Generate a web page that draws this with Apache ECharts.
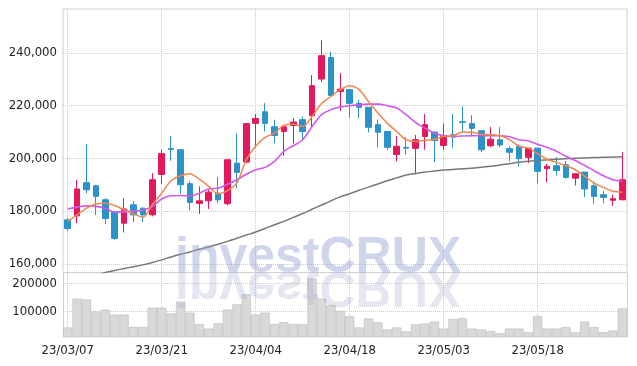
<!DOCTYPE html>
<html><head><meta charset="utf-8">
<script src="https://cdn.jsdelivr.net/npm/echarts@6/dist/echarts.min.js"></script>
<style>html,body{margin:0;padding:0;background:#fff}#c{width:637px;height:366px}</style>
</head><body><div id="c"></div>
<script>
const dates = ['23/03/07','23/03/08','23/03/09','23/03/10','23/03/13','23/03/14','23/03/15','23/03/16','23/03/17','23/03/20',
'23/03/21','23/03/22','23/03/23','23/03/24','23/03/27','23/03/28','23/03/29','23/03/30','23/03/31','23/04/03',
'23/04/04','23/04/05','23/04/06','23/04/07','23/04/10','23/04/11','23/04/12','23/04/13','23/04/14','23/04/17',
'23/04/18','23/04/19','23/04/20','23/04/21','23/04/24','23/04/25','23/04/26','23/04/27','23/04/28','23/05/02',
'23/05/03','23/05/04','23/05/08','23/05/09','23/05/10','23/05/11','23/05/12','23/05/15','23/05/16','23/05/17',
'23/05/18','23/05/19','23/05/22','23/05/23','23/05/24','23/05/25','23/05/26','23/05/30','23/05/31','23/06/01'];
// [open, close, low, high]
const ohlc = [
[176700,173400,172500,177300],[178200,188400,175400,191800],[190800,188100,186800,205400],[189600,185600,178500,190000],
[184300,177200,175100,184900],[179700,169600,169100,180100],[175400,180800,171900,184900],[182400,178600,175800,183800],
[181100,178600,175900,181400],[178600,191900,178000,194400],[193900,201800,190400,203300],[203700,203400,199100,208600],
[203300,190000,186600,203300],[190400,183300,180300,191300],[182900,183900,178900,189400],[183900,187200,180800,188100],
[186800,184300,183000,192900],[182800,199500,182200,199500],[198200,194700,188700,209600],[198600,213200,198200,213200],
[213300,215100,203900,216800],[217700,213300,210200,221000],[212000,208700,205800,214700],[210200,212000,201000,212000],
[212500,213800,205600,215300],[214700,210200,207100,215900],[216200,227600,211900,231600],[230100,239000,228900,244800],
[238300,223900,223500,240400],[225400,226300,218100,232400],[226100,220900,215300,226300],[220900,219400,215300,222300],
[219400,211800,209900,219400],[212800,209900,204300,214700],[210200,204200,203300,210200],[201500,204600,198900,208600],
[204200,203900,201400,208100],[203800,207100,194000,208900],[208300,212800,203300,216800],[210000,206800,198600,210000],
[204900,208600,203300,213200],[209000,208100,203900,216800],[213900,213700,210200,219700],[213200,211400,208300,216400],
[210500,203300,202400,210500],[204800,207300,204300,211900],[207100,205100,204300,211900],[203700,202300,198900,204600],
[204600,199900,197000,205200],[200400,203900,198200,203900],[203900,195100,190600,203900],[196100,197000,190900,198000],
[197200,195400,193500,200500],[197600,192800,192300,199000],[192500,194200,189700,194200],[194800,188400,185300,194800],
[189600,185600,182800,191300],[186200,185200,183000,187700],[184100,184700,182000,186200],[184300,191900,184100,202400]];
const ma5 = [176100,178600,181100,182700,183000,182100,180500,179000,177700,182400,
186800,191500,193400,194200,192100,189400,186600,187800,190600,199500,
204600,208000,209600,212600,213000,212100,215900,220800,223500,226100,
227600,226100,221600,217200,213400,210200,207100,206400,206800,207300,
208300,208600,210000,209900,209200,209000,208600,207100,204600,203900,
201800,199700,198500,197200,195700,193200,190600,189000,187500,187200];
const ma10 = [180800,181500,182000,181800,181000,179600,179700,180000,180300,181800,
184600,185800,185900,185800,186800,188400,188700,190200,191900,194000,
195700,196600,198900,202700,204800,207100,212100,216600,218500,219500,
220000,220400,220600,220600,220000,219100,216600,213700,211500,209600,
208600,208300,208500,208600,208600,208600,208600,208200,207100,206600,
205400,204200,202700,200800,199200,197300,195300,193400,191900,191300];
const maLong = [153300,154100,154900,155800,156700,157500,158200,158900,159600,160500,
161500,162600,163600,164500,165500,166400,167400,168500,169700,170900,
172100,173400,174800,176100,177600,179100,180700,182300,183900,185400,
186600,187900,189100,190300,191500,192600,193700,194300,194800,195200,
195600,195800,196100,196300,196600,197000,197500,198000,198500,198900,
199200,199500,199700,199900,200100,200200,200300,200400,200500,200600];
const volume = [43000,146000,143000,100000,107000,89000,89000,45000,45000,114000,
114000,93000,136000,96000,55000,39000,58000,107000,126000,162000,
89000,96000,55000,62000,55000,55000,218000,146000,123000,102000,
83000,43000,75000,61000,36000,43000,29000,54000,57000,64000,
39000,73000,76000,39000,36000,30000,22000,39000,39000,26000,
83000,39000,39000,44000,26000,64000,44000,26000,32000,111000];

const FONT = 'DejaVu Sans Condensed';
const gridLine = {show:true, alignWithLabel:true, interval:9, lineStyle:{color:'#c6c9dd', type:'dotted', width:1}};
const hLine = {show:true, showMinLine:false, showMaxLine:false, lineStyle:{color:'#c6c9dd', type:'dotted', width:1}};
const comma = v => String(v).replace(/\B(?=(\d{3})+(?!\d))/g, ',');

const chart = echarts.init(document.getElementById('c'), null, {renderer:'canvas'});
chart.setOption({
  animation:false,
  backgroundColor:'#fff',
  grid:[
    {left:63, right:10, top:9, height:263.5, show:true, borderColor:'#d0d0d0', borderWidth:1, backgroundColor:'transparent'},
    {left:63, right:10, top:273, bottom:29, show:false}
  ],
  xAxis:[
    {type:'category', gridIndex:0, data:dates, boundaryGap:true, axisLine:{show:false}, axisTick:{show:false}, axisLabel:{show:false}, splitLine:gridLine},
    {type:'category', gridIndex:1, data:dates, boundaryGap:true, axisLine:{show:false}, axisTick:{show:false},
      axisLabel:{show:true, interval:9, margin:7, color:'#222', fontFamily:FONT, fontSize:13}, splitLine:gridLine}
  ],
  yAxis:[
    {type:'value', gridIndex:0, min:156700, max:256700, splitNumber:5, axisLine:{show:false}, axisTick:{show:false},
      axisLabel:{color:'#222', fontFamily:FONT, fontSize:13, margin:6, showMinLabel:false, showMaxLabel:false, formatter:comma}, splitLine:hLine},
    {type:'value', gridIndex:1, min:9000, max:238000, splitNumber:2, axisLine:{show:true, lineStyle:{color:'#d0d0d0'}}, axisTick:{show:false},
      axisLabel:{color:'#222', fontFamily:FONT, fontSize:13, margin:6, showMinLabel:false, showMaxLabel:false, formatter:v => String(v)}, splitLine:hLine},
    {type:'value', gridIndex:1, position:'right', min:9000, max:238000, splitNumber:2, axisLine:{show:true, lineStyle:{color:'#d0d0d0'}}, axisTick:{show:false},
      axisLabel:{show:false}, splitLine:{show:false}}
  ],
  series:[
    {type:'candlestick', xAxisIndex:0, yAxisIndex:0, data:ohlc, barWidth:'66%',
      itemStyle:{color:'#e2195f', color0:'#2b93c9', borderColor:'#e2195f', borderColor0:'#2b93c9', borderWidth:1}},
    {type:'line', xAxisIndex:0, yAxisIndex:0, data:maLong, symbol:'none', smooth:0.3, z:3, lineStyle:{color:'#787878', width:1.5}},
    {type:'line', xAxisIndex:0, yAxisIndex:0, data:ma10, symbol:'none', smooth:0.3, z:4, lineStyle:{color:'#d259ec', width:1.6}},
    {type:'line', xAxisIndex:0, yAxisIndex:0, data:ma5, symbol:'none', smooth:0.3, z:5, lineStyle:{color:'#f0884e', width:1.5}},
    {type:'bar', xAxisIndex:1, yAxisIndex:1, data:volume, barWidth:'97%',
      itemStyle:{color:'#d9d9d9', borderColor:'#b9b9b9', borderWidth:0.6}}
  ],
  graphic:[
    {type:'text', x:175, y:272, z:100, silent:true,
      style:{text:'investCRUX', x:0, y:-39, font:'bold 50px "Liberation Sans"', fill:'rgba(140,155,205,0.42)', align:'left', verticalAlign:'top'}},
    {type:'text', x:175, y:272, scaleY:-1, z:100, silent:true,
      style:{text:'investCRUX', x:0, y:-39, font:'bold 50px "Liberation Sans"', fill:'rgba(150,160,205,0.26)', align:'left', verticalAlign:'top'}}
  ]
});
</script></body></html>
